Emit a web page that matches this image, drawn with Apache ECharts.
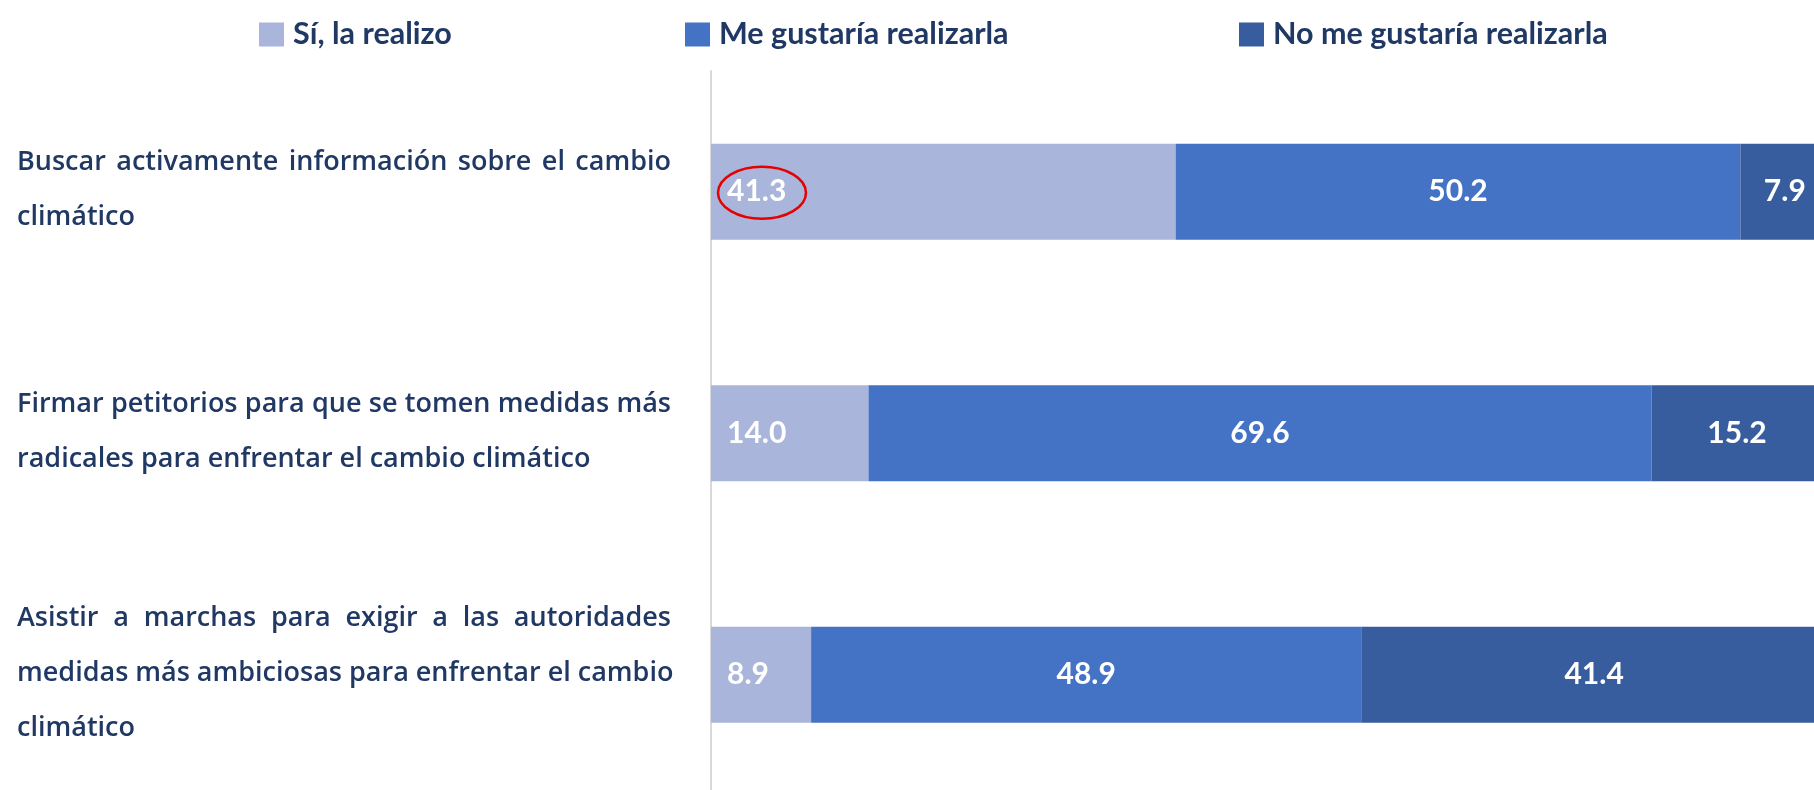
<!DOCTYPE html>
<html>
<head>
<meta charset="utf-8">
<script src="https://cdn.jsdelivr.net/npm/echarts@6/dist/echarts.min.js"></script>
<style>
  html, body { margin: 0; padding: 0; background: #fff; }
  #main { width: 1814px; height: 790px; }
</style>
</head>
<body>
<div id="main"></div>
<script>
  // categories (line breaks as in the original)
  let categories = [
    'Buscar activamente información sobre el cambio\nclimático',
    'Firmar petitorios para que se tomen medidas más\nradicales para enfrentar el cambio climático',
    'Asistir a marchas para exigir a las autoridades\nmedidas más ambiciosas para enfrentar el cambio\nclimático'
  ];
  let seriesNames = ['Sí, la realizo', 'Me gustaría realizarla', 'No me gustaría realizarla'];
  let siRealizo = [41.3, 14.0, 8.9];
  let meGustaria = [50.2, 69.6, 48.9];
  let noMeGustaria = [7.9, 15.2, 41.4];

  let colors = ['#A9B5DA', '#4472C4', '#375D9F'];
  let navy = '#203864';
  let catFont = 'Open Sans';
  let catSize = 27;
  let catWeight = 600;
  let catLineHeight = 55;
  let justifyWidth = 654;

  // justified category labels: every line but the last is stretched to justifyWidth
  let ctx = document.createElement('canvas').getContext('2d');
  ctx.font = catWeight + ' ' + catSize + 'px "' + catFont + '"';
  let baseRich = { color: navy, fontFamily: catFont, fontSize: catSize, fontWeight: catWeight, lineHeight: catLineHeight };
  let rich = { p: Object.assign({}, baseRich) };
  let labelText = {};
  categories.forEach((cat, ci) => {
    let lines = cat.split('\n');
    labelText[cat] = lines.map((line, li) => {
      if (li === lines.length - 1) return '{p|' + line + '}';
      let words = line.split(' ');
      let extra = (justifyWidth - ctx.measureText(line).width) / (words.length - 1);
      let key = 'j' + ci + '_' + li;
      rich[key] = Object.assign({}, baseRich, { padding: [0, Math.max(0, extra), 0, 0] });
      return words.map((w, wi) => wi < words.length - 1 ? '{' + key + '|' + w + ' }' : '{p|' + w + '}').join('');
    }).join('\n');
  });

  let chartDom = document.getElementById('main');
  let myChart = echarts.init(chartDom);

  let labelStyle = {
    show: true,
    color: '#fff',
    fontFamily: 'Lato',
    fontWeight: 'bold',
    fontSize: 30,
    formatter: p => p.value.toFixed(1)
  };

  let legendLefts = [254, 680, 1234];

  let option = {
    animation: false,
    legend: seriesNames.map((n, i) => ({
      data: [n],
      left: legendLefts[i],
      top: 14,
      icon: 'rect',
      itemWidth: 25,
      itemHeight: 24,
      textStyle: {
        color: navy,
        fontFamily: 'Lato',
        fontWeight: 'bold',
        fontSize: 30.5,
        padding: [0, 0, 12, 4]
      }
    })),
    grid: {
      left: 711,
      top: 71,
      width: 1125,
      height: 724.5,
      containLabel: false,
      outerBoundsMode: 'none'
    },
    xAxis: {
      type: 'value',
      min: 0,
      max: 100,
      show: false
    },
    yAxis: {
      type: 'category',
      inverse: true,
      data: categories,
      axisTick: { show: false },
      axisLine: {
        show: true,
        lineStyle: { color: '#D9D9D9', width: 2 }
      },
      axisLabel: {
        align: 'left',
        margin: 694,
        padding: [0, 0, 3, 0],
        formatter: v => labelText[v],
        rich: rich
      }
    },
    series: [
      {
        name: seriesNames[0],
        type: 'bar',
        stack: 'total',
        barWidth: 96,
        itemStyle: { color: colors[0] },
        label: Object.assign({}, labelStyle, { position: 'insideLeft', distance: 16 }),
        data: siRealizo
      },
      {
        name: seriesNames[1],
        type: 'bar',
        stack: 'total',
        barWidth: 96,
        itemStyle: { color: colors[1] },
        label: Object.assign({}, labelStyle, { position: 'inside' }),
        data: meGustaria
      },
      {
        name: seriesNames[2],
        type: 'bar',
        stack: 'total',
        barWidth: 96,
        itemStyle: { color: colors[2] },
        label: Object.assign({}, labelStyle, { position: 'inside' }),
        data: noMeGustaria
      }
    ]
  };

  myChart.setOption(option);

  // red ellipse highlighting the first value
  let start = myChart.convertToPixel({ gridIndex: 0 }, [0, 0]);
  myChart.setOption({
    graphic: [{
      type: 'ellipse',
      shape: { cx: start[0] + 51, cy: start[1] + 1, rx: 44, ry: 26 },
      style: { fill: 'none', stroke: '#E60000', lineWidth: 2.5 },
      z: 100
    }]
  });
</script>
</body>
</html>
